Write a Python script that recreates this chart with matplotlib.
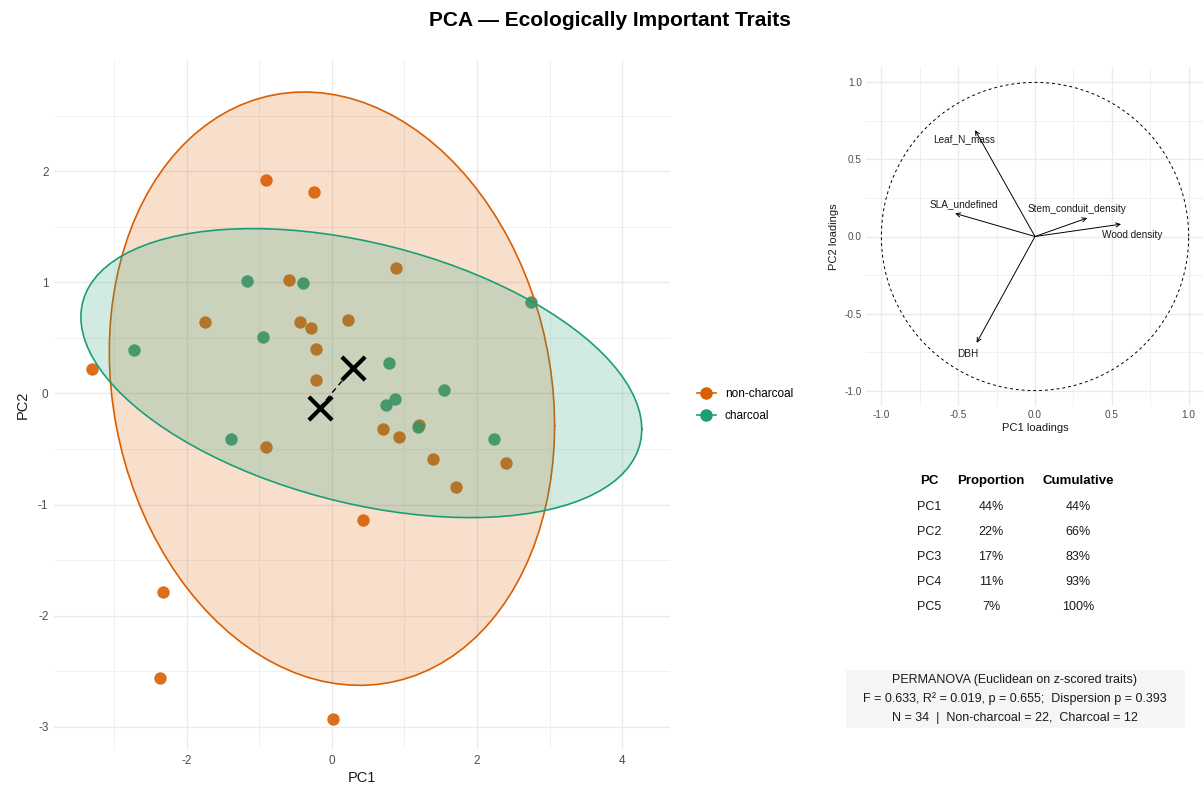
import numpy as np
import matplotlib
matplotlib.use("Agg")
import matplotlib.pyplot as plt
from matplotlib.lines import Line2D
from matplotlib.patches import Rectangle

plt.rcParams['font.family'] = ['Liberation Sans', 'DejaVu Sans']
plt.rcParams['axes.unicode_minus'] = False

# PCA scores
nonchar_pc1 = [-0.91, -0.24, -0.59, 0.89, -1.75, -0.44, -0.29, 0.22, -0.22, -3.30, -0.22,
               -0.91, 0.71, 0.43, -2.33, -2.37, 0.01, 0.92, 1.20, 1.39, 2.40, 1.71]
nonchar_pc2 = [1.92, 1.81, 1.02, 1.13, 0.64, 0.64, 0.59, 0.66, 0.40, 0.22, 0.12,
               -0.48, -0.32, -1.14, -1.79, -2.56, -2.93, -0.39, -0.28, -0.59, -0.63, -0.84]
char_pc1 = [-1.17, -0.40, -0.95, -2.73, 0.79, 0.74, 0.87, 2.75, 1.55, -1.39, 1.19, 2.23]
char_pc2 = [1.01, 0.99, 0.51, 0.39, 0.27, -0.10, -0.05, 0.82, 0.03, -0.41, -0.30, -0.41]

# loadings
traits = ['Leaf_N_mass', 'SLA_undefined', 'Stem_conduit_density', 'Wood density', 'DBH']
load_pc1 = [-0.39, -0.52, 0.34, 0.56, -0.38]
load_pc2 = [0.69, 0.15, 0.12, 0.08, -0.69]
label_shift = [(-0.07, -0.06), (0.06, 0.06), (-0.07, 0.06), (0.07, -0.07), (-0.06, -0.07)]

# variance explained
pcs = ['PC1', 'PC2', 'PC3', 'PC4', 'PC5']
prop = ['44%', '22%', '17%', '11%', '7%']
cumul = ['44%', '66%', '83%', '93%', '100%']

perm_lines = ['PERMANOVA (Euclidean on z-scored traits)',
              'F = 0.633, R\u00b2 = 0.019, p = 0.655;  Dispersion p = 0.393',
              'N = 34  |  Non-charcoal = 22,  Charcoal = 12']

ORANGE = '#D95F02'
GREEN = '#1B9E77'
GRID = '#EBEBEB'


def cov_trob(xy, nu=5, maxit=25, tol=0.01):
    n, p = xy.shape
    loc = xy.mean(0)
    w = np.ones(n)
    for _ in range(maxit):
        w0 = w
        X = xy - loc
        _, d, vt = np.linalg.svd(np.sqrt(w / w.sum())[:, None] * X, full_matrices=False)
        wX = X @ vt.T / d
        Q = (wX ** 2).sum(1)
        w = (nu + p) / (nu + Q)
        loc = (w[:, None] * xy).sum(0) / w.sum()
        if np.all(np.abs(w - w0) < tol):
            break
    sw = np.sqrt(w)[:, None] * X
    return loc, sw.T @ sw / n


def t_ellipse(x, y, level=0.95, segments=101):
    xy = np.column_stack([x, y])
    center, shape = cov_trob(xy)
    dfd = len(x) - 1
    fq = dfd / 2 * ((1 - level) ** (-2 / dfd) - 1)   # F(2, dfd) quantile
    radius = np.sqrt(2 * fq)
    ang = np.linspace(0, 2 * np.pi, segments + 1)
    circ = np.column_stack([np.cos(ang), np.sin(ang)])
    R = np.linalg.cholesky(shape).T
    return center + radius * circ @ R


W, H = 1203, 785
fig = plt.figure(figsize=(W / 100, H / 100), dpi=100)


def px_axes(x0, y0, x1, y1):
    return fig.add_axes([x0 / W, 1 - y1 / H, (x1 - x0) / W, (y1 - y0) / H])


def minimal(ax):
    for s in ax.spines.values():
        s.set_visible(False)
    ax.tick_params(length=0, colors='#4D4D4D')
    ax.grid(True, which='major', color=GRID, lw=1.0)
    ax.grid(True, which='minor', color=GRID, lw=0.5)
    ax.set_axisbelow(True)


# ---- score plot
ax = px_axes(54, 60, 670, 749)
minimal(ax)
ax.set_xlim(-3.83, 4.66)
ax.set_ylim(-3.2, 3.0)
ax.set_xticks([-2, 0, 2, 4])
ax.set_xticks([-3, -1, 1, 3], minor=True)
ax.set_yticks([-3, -2, -1, 0, 1, 2])
ax.set_yticks([-2.5, -1.5, -0.5, 0.5, 1.5, 2.5], minor=True)
ax.tick_params(which='minor', length=0)
ax.tick_params(labelsize=8.5, pad=4)

groups = [(nonchar_pc1, nonchar_pc2, ORANGE, 'non-charcoal'),
          (char_pc1, char_pc2, GREEN, 'charcoal')]
# points go first, ellipses are layered over them
for gx, gy, col, lab in groups:
    ax.scatter(gx, gy, s=80, color=col, alpha=0.9, lw=0, zorder=2)
for gx, gy, col, lab in groups:
    el = t_ellipse(gx, gy)
    ax.fill(el[:, 0], el[:, 1], color=col, alpha=0.2, lw=0, zorder=3)
    ax.plot(el[:, 0], el[:, 1], color=col, lw=1.2, zorder=3)

cx = [np.mean(nonchar_pc1), np.mean(char_pc1)]
cy = [np.mean(nonchar_pc2), np.mean(char_pc2)]
ax.plot(cx, cy, color='black', ls=(0, (4, 3)), lw=1.0, zorder=4)
ax.scatter(cx, cy, marker='x', s=280, color='black', lw=3, zorder=5)
ax.set_xlabel('PC1', fontsize=10.5, color='#1A1A1A', labelpad=3)
ax.set_ylabel('PC2', fontsize=10.5, color='#1A1A1A', labelpad=6)

handles = [Line2D([], [], color=c, marker='o', ms=8, lw=1.2) for c in (ORANGE, GREEN)]
fig.legend(handles, ['non-charcoal', 'charcoal'], loc='center left',
           bbox_to_anchor=(686 / W, 1 - 405 / H), frameon=False, fontsize=8.5,
           handlelength=1.6, labelspacing=0.9, handletextpad=0.8)

fig.text(610 / W, 1 - 21 / H, 'PCA \u2014 Ecologically Important Traits',
         ha='center', va='center', fontsize=15, fontweight='bold')

# ---- loadings plot
lx = px_axes(866, 67, 1204, 406)
minimal(lx)
lx.set_xlim(-1.1, 1.1)
lx.set_ylim(-1.1, 1.1)
lx.set_xticks([-1, -0.5, 0, 0.5, 1])
lx.set_xticks([-0.75, -0.25, 0.25, 0.75], minor=True)
lx.set_yticks([-1, -0.5, 0, 0.5, 1])
lx.set_yticks([-0.75, -0.25, 0.25, 0.75], minor=True)
lx.tick_params(which='minor', length=0)
lx.tick_params(labelsize=7.2, pad=3)
lx.xaxis.set_major_formatter(plt.FormatStrFormatter('%.1f'))
lx.yaxis.set_major_formatter(plt.FormatStrFormatter('%.1f'))
t = np.linspace(0, 2 * np.pi, 200)
lx.plot(np.cos(t), np.sin(t), color='black', ls=(0, (3, 3)), lw=0.7)
for name, a, b, (dx, dy) in zip(traits, load_pc1, load_pc2, label_shift):
    lx.annotate('', xy=(a, b), xytext=(0, 0),
                arrowprops=dict(arrowstyle='->,head_length=0.3,head_width=0.15',
                                color='black', lw=0.7, shrinkA=0, shrinkB=0))
    lx.text(a + dx, b + dy, name, fontsize=7.2, ha='center', va='center', color='#1A1A1A')
lx.set_xlabel('PC1 loadings', fontsize=8, color='#1A1A1A', labelpad=2)
lx.set_ylabel('PC2 loadings', fontsize=8, color='#1A1A1A', labelpad=4)

# ---- variance table
col_x = [929, 991, 1078]
for x, h in zip(col_x, ['PC', 'Proportion', 'Cumulative']):
    fig.text(x / W, 1 - 481 / H, h, ha='center', va='center', fontsize=9.5, fontweight='bold')
for i, row in enumerate(zip(pcs, prop, cumul)):
    y = 507 + 25 * i
    for x, v in zip(col_x, row):
        fig.text(x / W, 1 - y / H, v, ha='center', va='center', fontsize=9, color='#1A1A1A')

# ---- PERMANOVA summary
fig.patches.append(Rectangle((846 / W, 1 - 728 / H), (1185 - 846) / W, (728 - 670) / H,
                             transform=fig.transFigure, facecolor='#F5F5F5',
                             edgecolor='none', zorder=0))
for i, line in enumerate(perm_lines):
    fig.text(1015 / W, 1 - (680 + 19 * i) / H, line, ha='center', va='center',
             fontsize=9, color='#1A1A1A')

fig.savefig('out.png', dpi=100)
